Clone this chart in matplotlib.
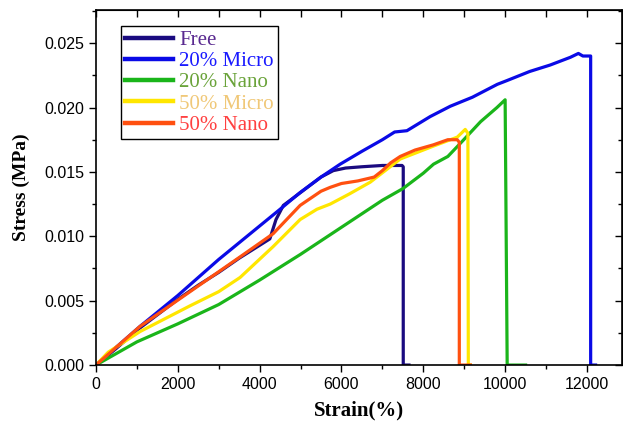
import matplotlib.pyplot as plt
from matplotlib.ticker import MultipleLocator

# strain (%) / stress (MPa)
free_x = [0, 500, 1000, 1500, 2000, 2500, 3000, 3500, 4000, 4250, 4400, 4580, 5000,
          5500, 5800, 6100, 6500, 7000, 7480, 7510, 7510, 7650]
free_y = [0, 0.0013, 0.0027, 0.0039, 0.0051, 0.0062, 0.0072, 0.0083, 0.0093, 0.0098,
          0.0113, 0.0124, 0.0134, 0.0146, 0.0151, 0.0153, 0.0154, 0.0155, 0.0155, 0.0154, 0, 0]

micro20_x = [0, 500, 1076, 1500, 2000, 2500, 3000, 3500, 4000, 4500, 4990, 5500, 5968,
             6500, 7000, 7300, 7600, 8170, 8660, 9200, 9808, 10050, 10600, 11100, 11594,
             11790, 11900, 12090, 12090, 12210]
micro20_y = [0, 0.0014, 0.0030, 0.0041, 0.0054, 0.0068, 0.0082, 0.0095, 0.0108, 0.0121,
             0.0134, 0.0146, 0.0156, 0.0166, 0.0175, 0.0181, 0.0182, 0.0193, 0.0201, 0.0208,
             0.0218, 0.0221, 0.0228, 0.0233, 0.0239, 0.0242, 0.0240, 0.0240, 0, 0]

nano20_x = [0, 1000, 2000, 3000, 4000, 5000, 6000, 7000, 7500, 8000, 8250, 8600, 8900,
            9400, 9800, 10000, 10050, 10500]
nano20_y = [0, 0.0018, 0.0032, 0.0047, 0.0066, 0.0086, 0.0107, 0.0128, 0.0137, 0.0149,
            0.0156, 0.0162, 0.0172, 0.0189, 0.0200, 0.0206, 0, 0]

micro50_x = [0, 300, 1076, 2299, 3000, 3522, 4330, 4990, 5400, 5724, 6200, 6702, 7436,
             8243, 8830, 9025, 9090, 9100, 9150]
micro50_y = [0, 0.0010, 0.0026, 0.0046, 0.0057, 0.0068, 0.0092, 0.0113, 0.0121, 0.0125,
             0.0133, 0.0142, 0.0160, 0.0170, 0.0177, 0.0183, 0.0180, 0, 0]

nano50_x = [0, 1076, 2299, 3522, 4330, 4990, 5500, 5724, 6000, 6400, 6800, 7000, 7200,
            7436, 7800, 8243, 8600, 8830, 8880, 8880, 9150]
nano50_y = [0, 0.0030, 0.0057, 0.0084, 0.0102, 0.0124, 0.0135, 0.0138, 0.0141, 0.0143,
            0.0146, 0.0151, 0.0157, 0.0162, 0.0167, 0.0171, 0.0175, 0.0175, 0.0173, 0, 0]

labels = ['Free', '20% Micro', '20% Nano', '50% Micro', '50% Nano']
line_colors = ['#1a0a80', '#0a0ae6', '#1ab51a', '#ffe600', '#ff5010']
text_colors = ['#5a2a90', '#1a1aff', '#6aa33a', '#f0c878', '#ff4040']

fig = plt.figure(figsize=(6.23, 4.24), dpi=100)
ax = fig.add_axes([0.154, 0.139, 0.844, 0.837])

curves = [(free_x, free_y), (micro20_x, micro20_y), (nano20_x, nano20_y),
          (micro50_x, micro50_y), (nano50_x, nano50_y)]
for (xs, ys), lab, col in zip(curves, labels, line_colors):
    ax.plot(xs, ys, color=col, lw=2.3, label=lab, solid_joinstyle='round')

ax.set_xlim(0, 12850)
ax.set_ylim(0, 0.02756)
ax.xaxis.set_major_locator(MultipleLocator(2000))
ax.xaxis.set_minor_locator(MultipleLocator(1000))
ax.yaxis.set_major_locator(MultipleLocator(0.005))
ax.yaxis.set_minor_locator(MultipleLocator(0.0025))
ax.yaxis.set_major_formatter(plt.FormatStrFormatter('%.3f'))

for lab in ax.get_xticklabels() + ax.get_yticklabels():
    lab.set_fontfamily('Liberation Sans')
    lab.set_fontsize(11.5)
ax.tick_params(which='major', direction='out', length=5, width=1)
ax.tick_params(which='minor', direction='out', length=3, width=1)
for s in ax.spines.values():
    s.set_linewidth(1.2)

# mirrored ticks on top/right pointing inwards
top = ax.secondary_xaxis('top')
top.xaxis.set_major_locator(MultipleLocator(2000))
top.xaxis.set_minor_locator(MultipleLocator(1000))
top.tick_params(which='both', direction='in', length=5, width=1, labeltop=False)
right = ax.secondary_yaxis('right')
right.yaxis.set_major_locator(MultipleLocator(0.005))
right.yaxis.set_minor_locator(MultipleLocator(0.0025))
right.tick_params(which='major', direction='in', length=5, width=1, labelright=False)
right.tick_params(which='minor', direction='in', length=3, width=1)

ax.set_xlabel('Strain(%)', fontfamily='Liberation Serif', fontweight='bold', fontsize=15,
              labelpad=6)
ax.set_ylabel('Stress (MPa)', fontfamily='Liberation Serif', fontweight='bold', fontsize=14,
              labelpad=10)

leg = ax.legend(loc='upper left', bbox_to_anchor=(0.0475, 0.955), borderaxespad=0,
                prop={'family': 'Liberation Serif', 'size': 15}, fancybox=False,
                edgecolor='black', framealpha=1, handlelength=2.3, handletextpad=0.3,
                labelspacing=0.08, borderpad=0.2)
leg.get_frame().set_linewidth(1)
for txt, col in zip(leg.get_texts(), text_colors):
    txt.set_color(col)
for h in leg.get_lines():
    h.set_linewidth(3.2)

fig.savefig('out.png', dpi=100)
